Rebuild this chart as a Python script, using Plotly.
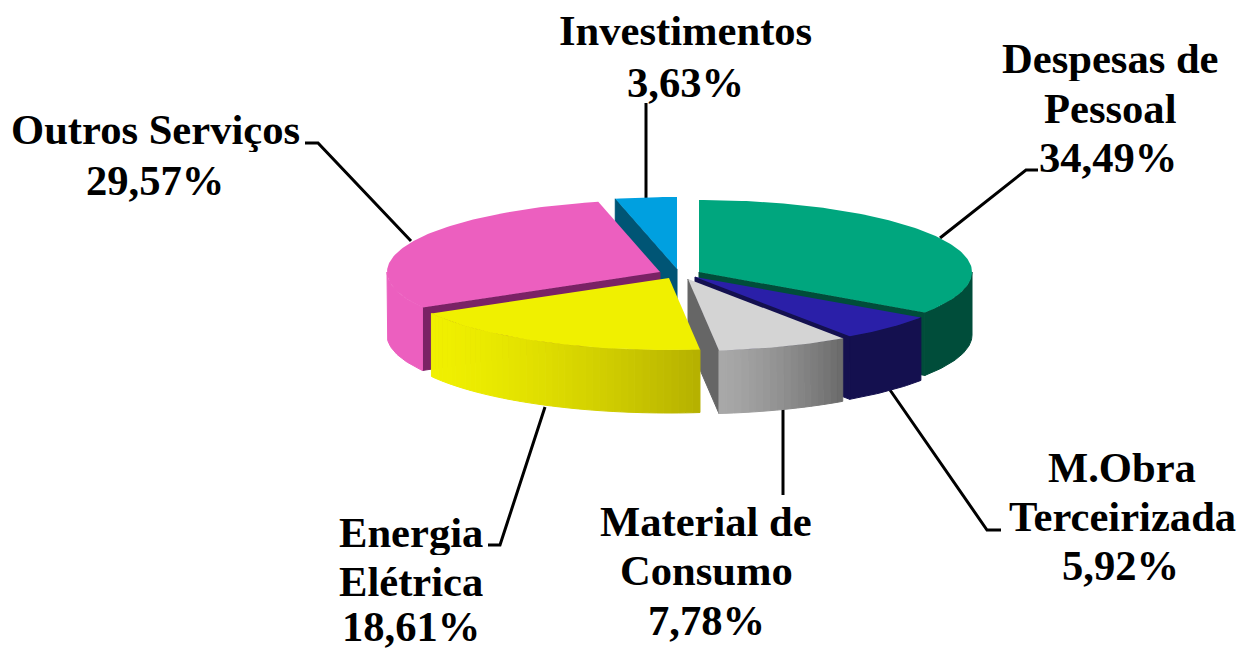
import math
import plotly.graph_objects as go

# ---- data ----
categories = ["Despesas de Pessoal", "M.Obra Terceirizada", "Material de Consumo",
              "Energia Elétrica", "Outros Serviços", "Investimentos"]
values = [34.49, 5.92, 7.78, 18.61, 29.57, 3.63]
label_lines = [["Despesas de", "Pessoal", "34,49%"], ["M.Obra", "Terceirizada", "5,92%"],
               ["Material de", "Consumo", "7,78%"], ["Energia", "Elétrica", "18,61%"],
               ["Outros Serviços", "29,57%"], ["Investimentos", "3,63%"]]

# ---- styling / layout ----
W, H = 1239, 650
RX, RY, DEPTH = 273, 72, 63
centers = [(699, 272), (695, 277), (688, 279), (669, 278), (660, 272), (677, 269)]
top_colors = ["#00a67e", "#2a1fa8", "#d4d4d4", "#f0f000", "#ec5fbf", "#00a0e0"]
wall_colors = ["#004d3a", "#14104f", "#666666", "#b5b000", "#7a2265", "#005575"]
side_left = ["#004d3a", "#14104f", "#a8a8a8", "#f0f000", "#ec5fbf", "#005575"]
side_right = ["#004d3a", "#14104f", "#6a6a6a", "#b5b000", "#ec5fbf", "#005575"]
draw_order = [5, 4, 0, 1, 2, 3]
label_pos = [[(1110, 58), (1110, 108), (1108, 157)], [(1122, 467), (1122, 516), (1120, 565)],
             [(706, 521), (706, 570), (706, 620)], [(411, 532), (411, 581), (411, 626)],
             [(155, 129), (155, 180)], [(685, 30), (685, 82)]]
leaders = [[(1038, 170), (1026, 170), (940, 238)], [(890, 390), (987, 530), (1001, 530)],
           [(783, 408), (783, 495)], [(545, 407), (500, 545), (488, 545)],
           [(305, 143), (318, 143), (411, 241)], [(646, 103), (646, 198)]]


def rim(c, deg):
    a = math.radians(deg)
    return c[0] + RX * math.sin(a), c[1] - RY * math.cos(a)


def hex2rgb(h):
    return [int(h[i:i + 2], 16) for i in (1, 3, 5)]


def mix(a, b, t):
    ca, cb = hex2rgb(a), hex2rgb(b)
    return "rgb(%d,%d,%d)" % tuple(round(x + (y - x) * t) for x, y in zip(ca, cb))


def poly(fig, pts, color, edge=0.0):
    xs = [p[0] for p in pts] + [pts[0][0]]
    ys = [p[1] for p in pts] + [pts[0][1]]
    fig.add_trace(go.Scatter(x=xs, y=ys, mode="lines", fill="toself", fillcolor=color,
                             line=dict(color=color, width=edge), hoverinfo="skip", showlegend=False))


fig = go.Figure()

for seg in leaders:
    fig.add_trace(go.Scatter(x=[p[0] for p in seg], y=[p[1] for p in seg], mode="lines",
                             line=dict(color="black", width=3), hoverinfo="skip", showlegend=False))

starts = []
acc = 0.0
for v in values:
    starts.append(acc)
    acc += v * 3.6

for i in draw_order:
    c = centers[i]
    a0, a1 = starts[i], starts[i] + values[i] * 3.6
    # cut faces that can be seen from above
    walls = []
    if 0 < a1 < 180:
        walls.append(a1)
    if 180 < a0 < 360:
        walls.append(a0)
    for ang in walls:
        p = rim(c, ang)
        poly(fig, [c, p, (p[0], p[1] + DEPTH), (c[0], c[1] + DEPTH)], wall_colors[i], 1)
    # outer wall, only on the front half
    s0, s1 = max(a0, 90), min(a1, 270)
    if s1 > s0:
        if side_left[i] == side_right[i]:
            n = max(2, int(s1 - s0))
            arc = [rim(c, s0 + (s1 - s0) * k / n) for k in range(n + 1)]
            poly(fig, arc + [(x, y + DEPTH) for x, y in reversed(arc)], side_left[i], 1)
        else:
            n = max(2, int((s1 - s0) / 1.5))
            xa = rim(c, s1)[0]
            xb = rim(c, s0)[0]
            for k in range(n):
                b0 = s0 + (s1 - s0) * k / n
                b1 = s0 + (s1 - s0) * (k + 1) / n
                p0, p1 = rim(c, b0), rim(c, b1)
                t = ((p0[0] + p1[0]) / 2 - xa) / (xb - xa)
                col = mix(side_left[i], side_right[i], t ** 1.4)
                poly(fig, [p0, p1, (p1[0], p1[1] + DEPTH), (p0[0], p0[1] + DEPTH)], col, 1)
    # top face
    n = max(4, int(a1 - a0))
    poly(fig, [c] + [rim(c, a0 + (a1 - a0) * k / n) for k in range(n + 1)], top_colors[i])

annotations = []
for lines, pos in zip(label_lines, label_pos):
    for text, (x, y) in zip(lines, pos):
        annotations.append(dict(x=x, y=y, xref="x", yref="y", text="<b>%s</b>" % text, showarrow=False,
                                xanchor="center", yanchor="middle", height=46,
                                font=dict(family="Liberation Serif", size=42.6, color="black")))

fig.update_layout(
    width=W, height=H, margin=dict(l=0, r=0, t=0, b=0),
    paper_bgcolor="white", plot_bgcolor="white", showlegend=False,
    annotations=annotations,
    xaxis=dict(range=[0, W], visible=False, fixedrange=True),
    yaxis=dict(range=[H, 0], visible=False, fixedrange=True),
)
fig.write_html("out.html", config={"displayModeBar": False},
               post_script="document.body.style.margin='0';")
